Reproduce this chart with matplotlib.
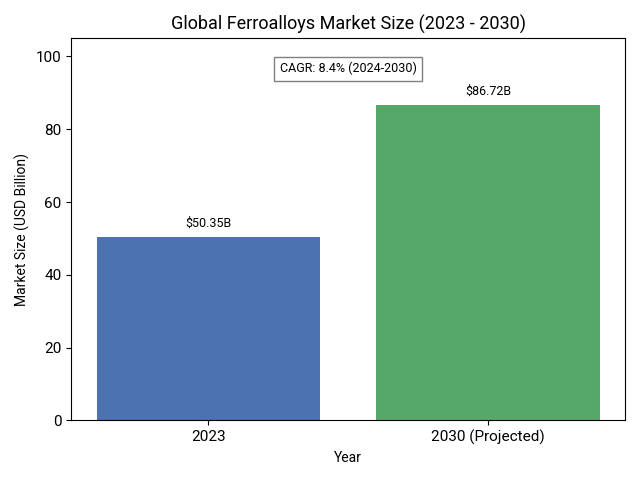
import matplotlib
matplotlib.use("Agg")
import matplotlib.pyplot as plt

years = ["2023", "2030 (Projected)"]
sizes = [50.35, 86.72]
colors = ["#4C72B0", "#55A868"]
cagr_text = "CAGR: 8.4% (2024-2030)"

plt.rcParams["font.family"] = ["Roboto", "DejaVu Sans"]

fig, ax = plt.subplots(figsize=(6.4, 4.8), dpi=100)
bars = ax.bar(years, sizes, color=colors, width=0.8)
for bar, val in zip(bars, sizes):
    ax.text(bar.get_x() + bar.get_width() / 2, val + 2, f"${val:.2f}B",
            ha="center", va="bottom", fontsize=9)

ax.text(0.5, 0.92, cagr_text, transform=ax.transAxes, ha="center", va="center",
        fontsize=9, bbox=dict(facecolor="white", edgecolor="gray"))

ax.set_ylim(0, 105)
ax.set_title("Global Ferroalloys Market Size (2023 - 2030)", fontsize=13)
ax.set_xlabel("Year", fontsize=10)
ax.set_ylabel("Market Size (USD Billion)", fontsize=10)
ax.tick_params(labelsize=11)
plt.tight_layout()
plt.savefig("out.png", dpi=100)
